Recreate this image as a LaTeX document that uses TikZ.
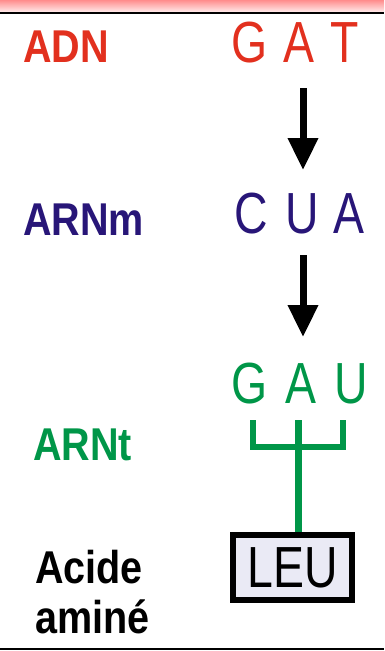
\documentclass[tikz,border=0pt]{standalone}
\usepackage{fontspec}
\setmainfont{Liberation Sans}
\newfontfamily\lblfont[FakeStretch=0.86]{Liberation Sans}
\newfontfamily\basefont[FakeStretch=0.8]{Liberation Sans}
\usetikzlibrary{arrows.meta}
\definecolor{adnred}{RGB}{226,48,30}
\definecolor{arnblue}{RGB}{40,22,120}
\definecolor{arngreen}{RGB}{0,150,72}
\definecolor{boxfill}{RGB}{234,234,245}
\tikzset{
  lbl/.style={inner sep=0, anchor=base west, font=\lblfont\bfseries\fontsize{46}{50}\selectfont},
  base/.style={inner sep=0, anchor=base, font=\basefont\fontsize{58}{60}\selectfont},
  flow/.style={line width=7pt, -{Triangle[width=29pt,length=32pt]}},
  tbar/.style={arngreen, line width=6.5pt, miter limit=20}
}
\begin{document}
\begin{tikzpicture}[x=1pt, y=-1pt]
  \useasboundingbox (0,0) rectangle (384,651);
  \shade[top color=red!45!white, bottom color=red!8!white] (0,0) rectangle (384,12);
  \draw[line width=2pt] (0,13) -- (384,13);
  \draw[line width=2.5pt] (0,649) -- (384,649);
  % labels
  \node[lbl, adnred] (adn) at (23,62) {ADN};
  \node[lbl, arnblue] (arnm) at (23,235) {ARNm};
  \node[lbl, arngreen] (arnt) at (33,460) {ARNt};
  \node[lbl] (aa1) at (35,583) {Acide};
  \node[lbl] (aa2) at (35,633) {aminé};
  % bases
  \node[base, adnred] (g1) at (250,62) {G};
  \node[base, adnred] (a1) at (299,62) {A};
  \node[base, adnred] (t1) at (345,62) {T};
  \node[base, arnblue] (c2) at (251,233) {C};
  \node[base, arnblue] (u2) at (302,233) {U};
  \node[base, arnblue] (a2) at (349,233) {A};
  \node[base, arngreen] (g3) at (250,403) {G};
  \node[base, arngreen] (a3) at (301,403) {A};
  \node[base, arngreen] (u3) at (351,403) {U};
  \node[draw, line width=6pt, fill=boxfill, minimum width=119pt, minimum height=65pt, inner sep=0, font=\basefont\fontsize{58}{60}\selectfont] (leu) at (292.5,567.5) {LEU};
  % arrows
  \coordinate (s1) at (303,88);
  \coordinate (e1) at (303,170);
  \coordinate (s2) at (303,255);
  \coordinate (e2) at (303,337);
  \draw[flow] (s1) -- (e1);
  \draw[flow] (s2) -- (e2);
  % anticodon bar
  \coordinate (bl) at (253,420);
  \coordinate (br) at (343,420);
  \coordinate (bm) at (298.5,420);
  \draw[tbar] (bl) -- ++(0,27) -| (br);
  \draw[tbar] (bm) -- (bm |- leu.north);
\end{tikzpicture}
\end{document}
